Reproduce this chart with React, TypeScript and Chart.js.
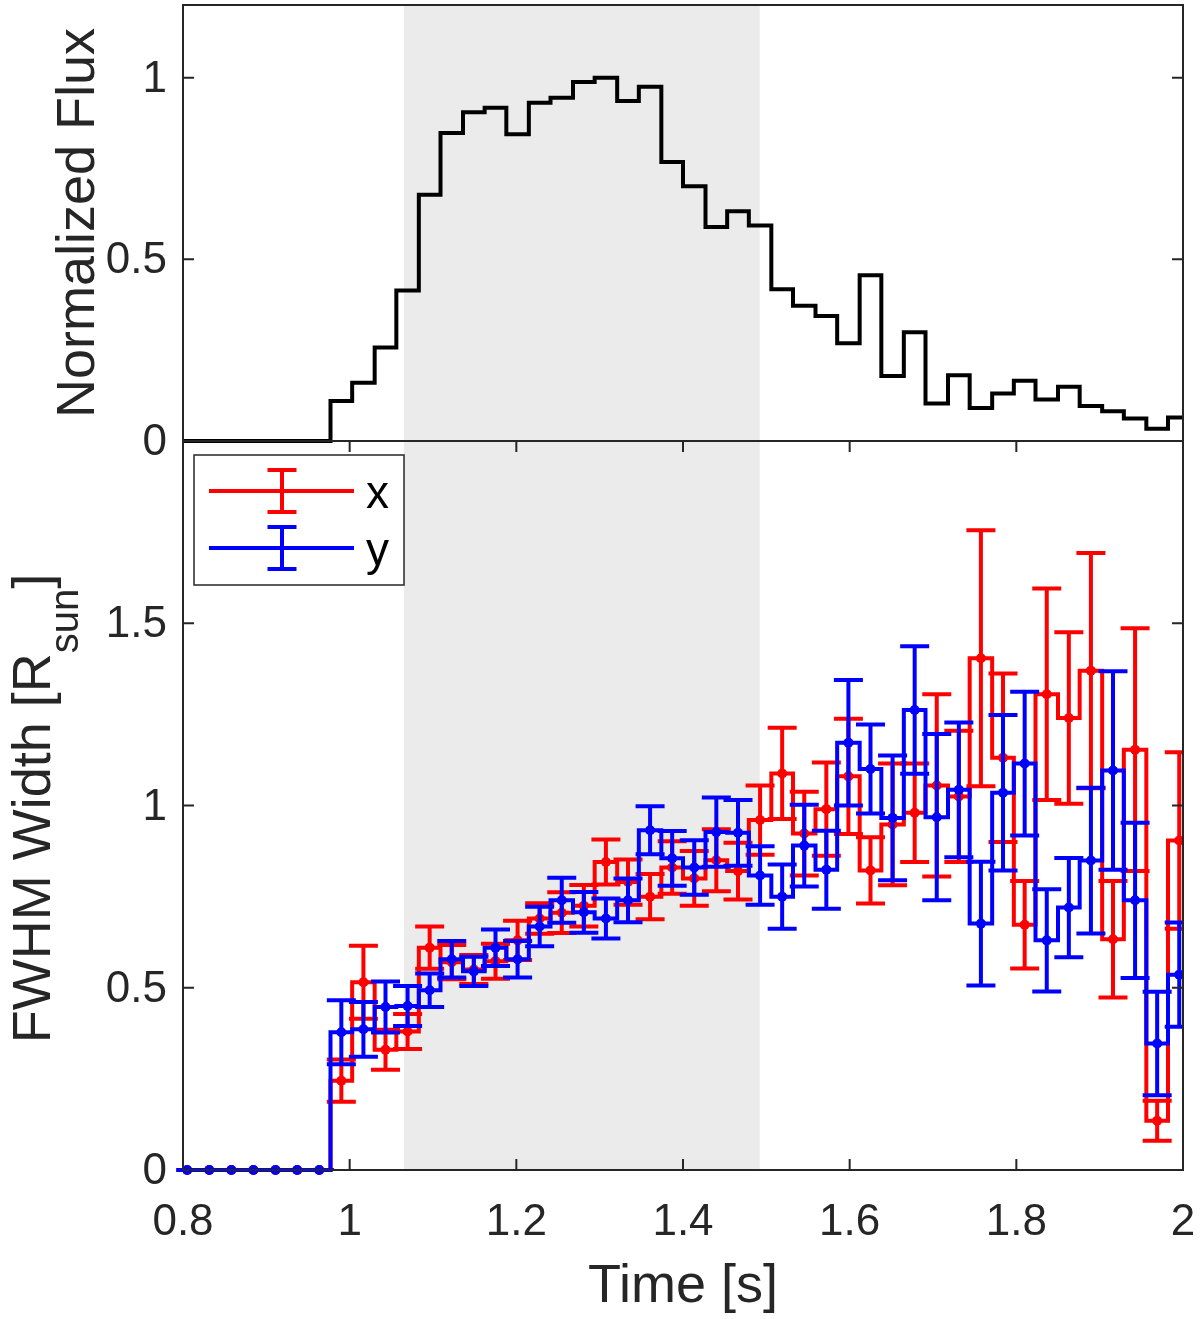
import { useEffect, useRef } from 'react'
import { Chart, LineController, LineElement, PointElement, LinearScale } from 'chart.js'

Chart.register(LineController, LineElement, PointElement, LinearScale)

const FONT = '"Liberation Sans", Arial, Helvetica, sans-serif'
const AXIS = '#262626'
const SHADE = '#ebebeb'
const RED = '#ff0000'
const BLUE = '#0000ff'

// time bin edges [s]
const binEdges = [
  0.792, 0.818, 0.845, 0.871, 0.898, 0.924, 0.95, 0.977, 1.003, 1.03, 1.056, 1.083, 1.109, 1.136, 1.162, 1.188,
  1.215, 1.241, 1.268, 1.294, 1.321, 1.347, 1.374, 1.4, 1.427, 1.453, 1.479, 1.506, 1.532, 1.559, 1.585, 1.612,
  1.638, 1.665, 1.691, 1.718, 1.744, 1.771, 1.797, 1.823, 1.85, 1.876, 1.903, 1.929, 1.956, 1.982, 2.009,
]

// one value per bin
const flux = [
  0, 0, 0, 0, 0, 0, 0, 0.11, 0.16, 0.257, 0.414, 0.678, 0.848, 0.905, 0.917, 0.844, 0.931, 0.945, 0.988, 1.0,
  0.936, 0.975, 0.768, 0.701, 0.589, 0.632, 0.593, 0.418, 0.372, 0.344, 0.269, 0.456, 0.179, 0.299, 0.103,
  0.181, 0.091, 0.131, 0.166, 0.114, 0.149, 0.096, 0.082, 0.062, 0.034, 0.065,
]
const widthX = [
  0, 0, 0, 0, 0, 0, 0, 0.245, 0.515, 0.33, 0.38, 0.61, 0.57, 0.55, 0.573, 0.63, 0.69, 0.706, 0.725, 0.845,
  0.79, 0.75, 0.83, 0.8, 0.85, 0.82, 0.96, 1.088, 0.923, 0.99, 1.08, 0.822, 0.948, 0.98, 1.055, 1.025, 1.404,
  1.131, 0.673, 1.305, 1.24, 1.37, 0.633, 1.153, 0.135, 0.904,
]
const errX = [
  0, 0, 0, 0, 0, 0, 0, 0.058, 0.1, 0.055, 0.048, 0.058, 0.047, 0.04, 0.048, 0.054, 0.042, 0.056, 0.057, 0.062,
  0.062, 0.062, 0.072, 0.075, 0.085, 0.078, 0.095, 0.125, 0.115, 0.128, 0.158, 0.091, 0.167, 0.135, 0.25, 0.18,
  0.351, 0.231, 0.12, 0.29, 0.235, 0.323, 0.16, 0.333, 0.055, 0.242,
]
const widthY = [
  0, 0, 0, 0, 0, 0, 0, 0.378, 0.386, 0.447, 0.45, 0.493, 0.578, 0.545, 0.61, 0.578, 0.668, 0.74, 0.707, 0.69,
  0.74, 0.932, 0.855, 0.83, 0.927, 0.925, 0.808, 0.75, 0.89, 0.824, 1.172, 1.1, 0.966, 1.262, 0.968, 1.043,
  0.676, 1.035, 1.115, 0.63, 0.72, 0.849, 1.096, 0.74, 0.347, 0.536,
]
const errY = [
  0, 0, 0, 0, 0, 0, 0, 0.088, 0.075, 0.07, 0.055, 0.046, 0.05, 0.04, 0.05, 0.05, 0.054, 0.062, 0.056, 0.055,
  0.06, 0.066, 0.075, 0.075, 0.095, 0.09, 0.08, 0.088, 0.112, 0.107, 0.172, 0.122, 0.171, 0.175, 0.228, 0.185,
  0.17, 0.213, 0.197, 0.14, 0.136, 0.2, 0.272, 0.213, 0.142, 0.143,
]

const timeTicks = [0.8, 1, 1.2, 1.4, 1.6, 1.8, 2]
const fluxTicks = [0, 0.5, 1]
const widthTicks = [0, 0.5, 1, 1.5]
const shadeWindow = [1.065, 1.492]

const stairs = (vals: number[]) => binEdges.map((t, i) => ({ x: t, y: vals[Math.min(i, vals.length - 1)] }))
const centres = (vals: number[]) => vals.map((v, i) => ({ x: (binEdges[i] + binEdges[i + 1]) / 2, y: v }))

const shadePlugin = {
  id: 'shade',
  beforeDatasetsDraw(chart: any) {
    const { ctx, chartArea: a, scales } = chart
    const x0 = scales.x.getPixelForValue(shadeWindow[0])
    const x1 = scales.x.getPixelForValue(shadeWindow[1])
    ctx.save()
    ctx.fillStyle = SHADE
    ctx.fillRect(x0, a.top, x1 - x0, a.bottom - a.top)
    ctx.restore()
  },
}

const errorBarPlugin = {
  id: 'errorBars',
  afterDatasetDraw(chart: any, args: any) {
    const ds = chart.data.datasets[args.index]
    if (!ds.errors) return
    const { ctx, chartArea: a } = chart
    const y = chart.scales.y
    ctx.save()
    ctx.beginPath()
    ctx.rect(a.left, a.top, a.right - a.left, a.bottom - a.top)
    ctx.clip()
    ctx.strokeStyle = ds.borderColor
    ctx.lineWidth = 4
    args.meta.data.forEach((pt: any, i: number) => {
      const v = ds.data[i].y
      const e = ds.errors[i]
      const hi = y.getPixelForValue(v + e)
      const lo = y.getPixelForValue(v - e)
      ctx.beginPath()
      ctx.moveTo(pt.x, hi)
      ctx.lineTo(pt.x, lo)
      ctx.moveTo(pt.x - 14.5, hi)
      ctx.lineTo(pt.x + 14.5, hi)
      ctx.moveTo(pt.x - 14.5, lo)
      ctx.lineTo(pt.x + 14.5, lo)
      ctx.stroke()
    })
    ctx.restore()
  },
}

function drawFrame(chart: any, yTicks: number[], xTicks: number[] | null) {
  const { ctx, chartArea: a, scales } = chart
  ctx.save()
  ctx.strokeStyle = AXIS
  ctx.lineWidth = 2
  ctx.strokeRect(a.left, a.top, a.right - a.left, a.bottom - a.top)
  ctx.beginPath()
  yTicks.forEach((v) => {
    const py = scales.y.getPixelForValue(v)
    ctx.moveTo(a.left, py)
    ctx.lineTo(a.left + 11, py)
    ctx.moveTo(a.right, py)
    ctx.lineTo(a.right - 11, py)
  })
  xTicks?.forEach((v) => {
    const px = scales.x.getPixelForValue(v)
    ctx.moveTo(px, a.bottom)
    ctx.lineTo(px, a.bottom - 11)
    ctx.moveTo(px, a.top)
    ctx.lineTo(px, a.top + 11)
  })
  ctx.stroke()

  ctx.fillStyle = AXIS
  ctx.font = `44px ${FONT}`
  ctx.textAlign = 'right'
  ctx.textBaseline = 'middle'
  yTicks.forEach((v) => ctx.fillText(String(v), a.left - 16, scales.y.getPixelForValue(v) + 2))
  if (xTicks) {
    ctx.textAlign = 'center'
    ctx.textBaseline = 'alphabetic'
    xTicks.forEach((v) => ctx.fillText(String(v), scales.x.getPixelForValue(v), a.bottom + 65))
  }
  ctx.restore()
}

const topFrame = {
  id: 'topFrame',
  afterDraw(chart: any) {
    drawFrame(chart, fluxTicks, null)
    const { ctx, chartArea: a } = chart
    ctx.save()
    ctx.fillStyle = AXIS
    ctx.font = `54px ${FONT}`
    ctx.textAlign = 'center'
    ctx.translate(94, (a.top + a.bottom) / 2)
    ctx.rotate(-Math.PI / 2)
    ctx.fillText('Normalized Flux', 0, 0)
    ctx.restore()
  },
}

const bottomFrame = {
  id: 'bottomFrame',
  afterDraw(chart: any) {
    drawFrame(chart, widthTicks, timeTicks)
    const { ctx, chartArea: a } = chart
    ctx.save()
    ctx.fillStyle = AXIS
    ctx.textAlign = 'center'
    ctx.font = `54px ${FONT}`
    ctx.fillText('Time [s]', (a.left + a.right) / 2, a.bottom + 132)

    // y title with subscript
    const big = `54px ${FONT}`
    const small = `40px ${FONT}`
    const p1 = 'FWHM Width [R'
    const p2 = 'sun'
    const p3 = ']'
    ctx.textAlign = 'left'
    ctx.font = big
    const w1 = ctx.measureText(p1).width
    const w3 = ctx.measureText(p3).width
    ctx.font = small
    const w2 = ctx.measureText(p2).width
    const start = -(w1 + w2 + w3) / 2
    ctx.translate(50, (a.top + a.bottom) / 2 + 3)
    ctx.rotate(-Math.PI / 2)
    ctx.font = big
    ctx.fillText(p1, start, 0)
    ctx.fillText(p3, start + w1 + w2, 0)
    ctx.font = small
    ctx.fillText(p2, start + w1, 28)
    ctx.restore()

    // legend
    ctx.save()
    const bx = a.left + 11
    const by = a.top + 14
    ctx.fillStyle = '#ffffff'
    ctx.fillRect(bx, by, 210, 130)
    ctx.strokeStyle = AXIS
    ctx.lineWidth = 1.5
    ctx.strokeRect(bx, by, 210, 130)
    const entries = [
      { label: 'x', color: RED, y: by + 36 },
      { label: 'y', color: BLUE, y: by + 93 },
    ]
    entries.forEach((en) => {
      ctx.strokeStyle = en.color
      ctx.lineWidth = 4
      ctx.beginPath()
      ctx.moveTo(bx + 15, en.y)
      ctx.lineTo(bx + 160, en.y)
      ctx.moveTo(bx + 88, en.y - 21)
      ctx.lineTo(bx + 88, en.y + 21)
      ctx.moveTo(bx + 73.5, en.y - 21)
      ctx.lineTo(bx + 102.5, en.y - 21)
      ctx.moveTo(bx + 73.5, en.y + 21)
      ctx.lineTo(bx + 102.5, en.y + 21)
      ctx.stroke()
      ctx.fillStyle = '#000000'
      ctx.font = `46px ${FONT}`
      ctx.textAlign = 'left'
      ctx.fillText(en.label, bx + 172, en.y + 17)
    })
    ctx.restore()
  },
}

const stairSet = (vals: number[], color: string, order: number, clip: any) => ({
  data: stairs(vals),
  borderColor: color,
  borderWidth: 4,
  stepped: 'before' as const,
  pointRadius: 0,
  fill: false,
  clip,
  order,
})

const markerSet = (vals: number[], errs: number[], color: string, order: number) => ({
  data: centres(vals),
  errors: errs,
  borderColor: color,
  showLine: false,
  pointRadius: 5,
  pointBorderWidth: 0,
  pointBackgroundColor: color,
  clip: { left: 0, top: 0, right: 0, bottom: 6 },
  order,
})

export default function App() {
  const topRef = useRef<HTMLCanvasElement | null>(null)
  const bottomRef = useRef<HTMLCanvasElement | null>(null)

  useEffect(() => {
    document.body.style.margin = '0'
    if (!topRef.current || !bottomRef.current) return

    const top = new Chart(topRef.current, {
      type: 'line',
      data: { datasets: [stairSet(flux, '#000000', 1, { left: 0, top: 0, right: 0, bottom: 3 })] },
      options: {
        animation: false,
        responsive: false,
        events: [],
        layout: { padding: { left: 183, right: 17, top: 5, bottom: 29 } },
        scales: {
          x: { type: 'linear', min: 0.8, max: 2, display: false },
          y: { type: 'linear', min: 0, max: 1.2, display: false },
        },
      },
      plugins: [shadePlugin, topFrame],
    } as any)

    const stairClip = { left: 10, top: 0, right: 0, bottom: 3 }
    const bottom = new Chart(bottomRef.current, {
      type: 'line',
      data: {
        datasets: [
          stairSet(widthX, RED, 4, stairClip),
          markerSet(widthX, errX, RED, 3),
          stairSet(widthY, BLUE, 2, stairClip),
          markerSet(widthY, errY, BLUE, 1),
        ],
      },
      options: {
        animation: false,
        responsive: false,
        events: [],
        layout: { padding: { left: 183, right: 17, top: 20, bottom: 149 } },
        scales: {
          x: { type: 'linear', min: 0.8, max: 2, display: false },
          y: { type: 'linear', min: 0, max: 2, display: false },
        },
      },
      plugins: [shadePlugin, errorBarPlugin, bottomFrame],
    } as any)

    return () => {
      top.destroy()
      bottom.destroy()
    }
  }, [])

  return (
    <div style={{ position: 'relative', width: 1200, height: 1319, background: '#ffffff' }}>
      <canvas ref={topRef} width={1200} height={470} style={{ position: 'absolute', left: 0, top: 0 }} />
      <canvas ref={bottomRef} width={1200} height={898} style={{ position: 'absolute', left: 0, top: 421 }} />
    </div>
  )
}
